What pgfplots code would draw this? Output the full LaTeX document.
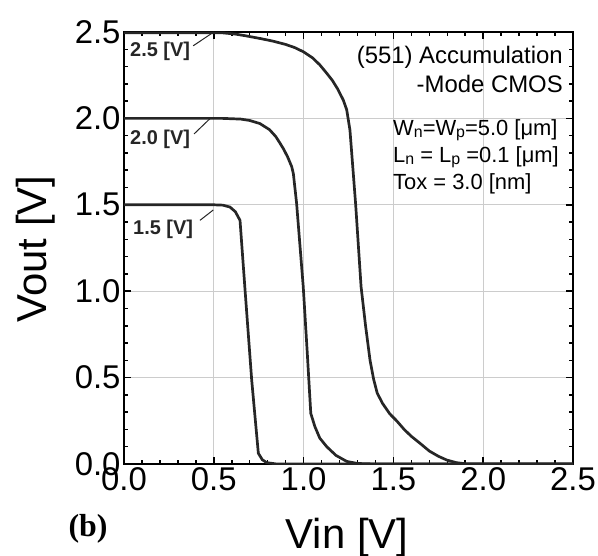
\documentclass[border=0pt]{standalone}
\usepackage{pgfplots}
\pgfplotsset{compat=1.18}
\usepackage{fontspec}
\setmainfont{Liberation Sans}
\newfontfamily\serifb{Liberation Serif}
\definecolor{curvec}{HTML}{262626}
\definecolor{gridc}{HTML}{CCCCCC}
\newcommand{\sub}[1]{\raisebox{-1.5bp}{\fontsize{16}{16}\selectfont #1}}
\begin{document}
\begin{tikzpicture}
\path[use as bounding box] (-124bp,-92bp) rectangle (474bp,464bp);
\begin{axis}[
  at={(0,0)}, anchor=south west,
  scale only axis, width=449bp, height=432bp,
  xmin=0, xmax=2.5, ymin=0, ymax=2.5,
  xtick={0,0.5,1,1.5,2,2.5}, ytick={0,0.5,1,1.5,2,2.5},
  minor tick num=4,
  tick align=inside,
  major tick length=7bp, minor tick length=4bp,
  every tick/.style={black, line width=1.5bp},
  axis line style={line width=2.7bp},
  grid=major, major grid style={gridc, line width=0.7bp},
  ticklabel style={font=\fontsize{33}{36}\selectfont},
  /pgf/number format/assume math mode=true,
  /pgf/number format/.cd, fixed, fixed zerofill, precision=1,
]
% 1.5 V
\addplot[curvec, line width=2.7bp, line join=round] coordinates {
 (0,1.5) (0.50,1.5) (0.55,1.498) (0.59,1.487) (0.62,1.46) (0.646,1.41)
 (0.674,1.007) (0.711,0.486) (0.748,0.062) (0.77,0.025) (0.794,0.008) (0.85,0.0) (2.5,0)
};
% 2.0 V
\addplot[curvec, line width=2.7bp, line join=round] coordinates {
 (0,2.0) (0.55,2.0) (0.65,1.996) (0.70,1.988) (0.757,1.97) (0.81,1.935) (0.845,1.895) (0.869,1.856)
 (0.89,1.82) (0.912,1.775) (0.934,1.72) (0.943,1.68) (0.961,1.509) (0.998,1.026) (1.02,0.65)
 (1.04,0.293) (1.063,0.216) (1.09,0.15) (1.129,0.10) (1.18,0.05) (1.24,0.015) (1.30,0.003) (1.40,0) (2.5,0)
};
% 2.5 V
\addplot[curvec, line width=2.7bp, line join=round] coordinates {
 (0,2.495) (0.55,2.495) (0.62,2.488) (0.683,2.477) (0.76,2.462) (0.83,2.447) (0.90,2.428)
 (0.95,2.41) (1.00,2.385) (1.05,2.35) (1.09,2.31) (1.129,2.261)
 (1.16,2.22) (1.19,2.17) (1.221,2.106) (1.24,2.05) (1.258,1.933) (1.29,1.5) (1.32,1.026)
 (1.345,0.80) (1.37,0.60) (1.39,0.49) (1.41,0.41) (1.44,0.35) (1.48,0.29) (1.518,0.25)
 (1.56,0.20) (1.60,0.16) (1.648,0.12) (1.70,0.075) (1.75,0.045) (1.797,0.023)
 (1.85,0.008) (1.91,0) (2.5,0)
};
% leader lines
\draw[curvec, line width=1bp] (axis cs:0.385,2.42) -- (axis cs:0.50,2.50);
\draw[curvec, line width=1bp] (axis cs:0.39,1.91) -- (axis cs:0.48,2.0);
\draw[curvec, line width=1bp] (axis cs:0.423,1.41) -- (axis cs:0.497,1.47);
\end{axis}
% curve labels
\node[anchor=base west, inner sep=0, font=\fontsize{20}{21}\selectfont\bfseries, text=curvec] at (6bp,407bp) {2.5 [V]};
\node[anchor=base west, inner sep=0, font=\fontsize{20}{21}\selectfont\bfseries, text=curvec] at (6bp,319bp) {2.0 [V]};
\node[anchor=base west, inner sep=0, font=\fontsize{20}{21}\selectfont\bfseries, text=curvec] at (9bp,229bp) {1.5 [V]};
% annotations
\node[anchor=base east, inner sep=0, font=\fontsize{24}{26}\selectfont] at (439bp,400bp) {(551) Accumulation};
\node[anchor=base east, inner sep=0, font=\fontsize{24}{26}\selectfont] at (439bp,371bp) {-Mode CMOS};
\node[anchor=base west, inner sep=0, font=\fontsize{22}{24}\selectfont] at (269bp,328bp) {W\sub{n}=W\sub{p}=5.0 [μm]};
\node[anchor=base west, inner sep=0, font=\fontsize{22}{24}\selectfont] at (269bp,301bp) {L\sub{n} = L\sub{p} =0.1 [μm]};
\node[anchor=base west, inner sep=0, font=\fontsize{22}{24}\selectfont] at (269bp,274bp) {Tox = 3.0 [nm]};
% axis labels
\node[anchor=base, inner sep=0, font=\fontsize{42}{44}\selectfont] at (223bp,-84bp) {Vin [V]};
\node[anchor=base, inner sep=0, rotate=90, font=\fontsize{42}{44}\selectfont] at (-77bp,215bp) {Vout [V]};
\node[anchor=base, inner sep=0, font=\fontsize{32}{34}\selectfont\serifb\bfseries] at (-36bp,-72bp) {(b)};
\end{tikzpicture}
\end{document}
